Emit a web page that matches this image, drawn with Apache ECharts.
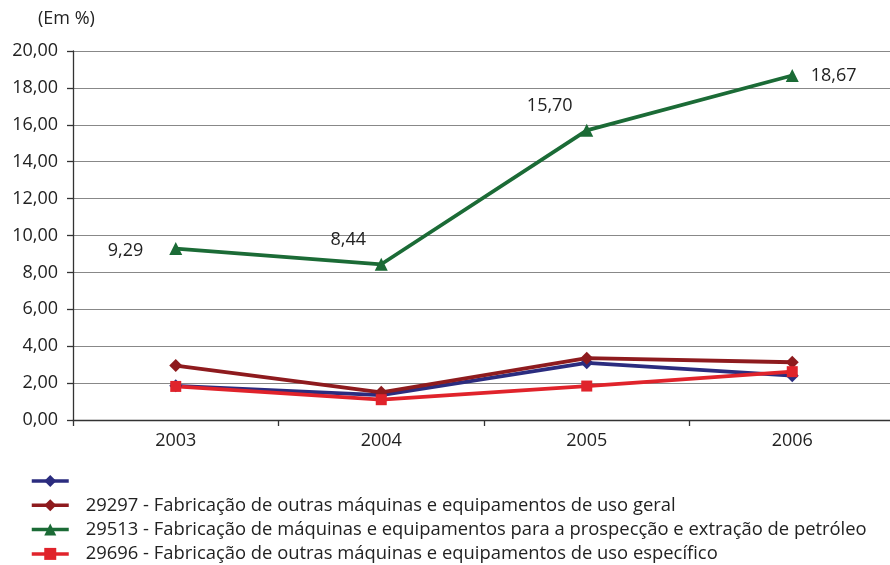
<!DOCTYPE html>
<html>
<head>
<meta charset="utf-8">
<script src="https://cdn.jsdelivr.net/npm/echarts@6/dist/echarts.min.js"></script>
<style>
  html, body { margin: 0; padding: 0; background: #fff; }
  #chart { width: 890px; height: 565px; }
</style>
</head>
<body>
<div id="chart"></div>
<script>
// Anos e séries (%)
const years = ['2003', '2004', '2005', '2006'];
const yTicks = [0, 2, 4, 6, 8, 10, 12, 14, 16, 18, 20];
const seriesNames = [
  ' ',
  '29297 - Fabricação de outras máquinas e equipamentos de uso geral',
  '29513 - Fabricação de máquinas e equipamentos para a prospecção e extração de petróleo',
  '29696 - Fabricação de outras máquinas e equipamentos de uso específico'
];
const serieTotal = [1.85, 1.35, 3.10, 2.40];
const serie29297 = [2.95, 1.50, 3.35, 3.13];
const serie29513 = [9.29, 8.44, 15.70, 18.67];
const serie29696 = [1.82, 1.10, 1.84, 2.62];

const colors = ['#2b2c7f', '#8e1b1e', '#1b6b36', '#e0232b'];
const FONT = '"Open Sans", "Noto Sans", sans-serif';
const FS = 18;
const fmt = v => v.toFixed(2).replace('.', ',');

// posição dos rótulos da série de petróleo
const labelPos = [
  { position: 'left', distance: 26, offset: [0, 2] },
  { position: 'top', offset: [-33, -4] },
  { position: 'top', offset: [-37, -4] },
  { position: 'right', distance: 12, offset: [0, 0] }
];

const chart = echarts.init(document.getElementById('chart'));
chart.setOption({
  animation: false,
  backgroundColor: '#fff',
  textStyle: { fontFamily: FONT },
  graphic: [{
    type: 'text', left: 38, top: 10,
    style: { text: '(Em %)', font: FS + 'px ' + FONT, fill: '#222' }
  }],
  grid: { left: 73, top: 51, width: 822, height: 369, containLabel: false, outerBoundsMode: 'none' },
  legend: {
    orient: 'vertical', left: 30, top: 471, height: 110, padding: 0,
    itemWidth: 37, itemHeight: 15, itemGap: 4.3,
    data: seriesNames,
    lineStyle: { width: 3.5 },
    textStyle: { fontSize: 18.4, lineHeight: 20, color: '#222', fontFamily: FONT, padding: [0, 0, 0, 12] }
  },
  xAxis: {
    type: 'category', data: years, boundaryGap: true,
    axisLine: { lineStyle: { color: '#333', width: 1.3 } },
    axisTick: { show: true, length: 6, lineStyle: { color: '#333', width: 1.3 } },
    axisLabel: { fontSize: FS, color: '#222', margin: 12, fontFamily: FONT }
  },
  yAxis: {
    type: 'value', min: 0, max: 20, interval: 2,
    axisLine: { show: true, lineStyle: { color: '#333', width: 1.3 } },
    axisTick: { show: true, length: 6, lineStyle: { color: '#333', width: 1.3 } },
    splitLine: { lineStyle: { color: '#888', width: 1.2 } },
    axisLabel: { fontSize: FS, color: '#222', margin: 15, fontFamily: FONT, formatter: v => fmt(v) }
  },
  series: [
    {
      name: seriesNames[0], type: 'line', data: serieTotal,
      symbol: 'diamond', symbolSize: 13, color: colors[0],
      lineStyle: { width: 3.8, color: colors[0] }, itemStyle: { color: colors[0] }
    },
    {
      name: seriesNames[1], type: 'line', data: serie29297,
      symbol: 'diamond', symbolSize: 13, color: colors[1],
      lineStyle: { width: 3.8, color: colors[1] }, itemStyle: { color: colors[1] }
    },
    {
      name: seriesNames[2], type: 'line', color: colors[2],
      data: serie29513.map((v, i) => ({ value: v, label: labelPos[i] })),
      symbol: 'triangle', symbolSize: 13,
      lineStyle: { width: 3.8, color: colors[2] }, itemStyle: { color: colors[2] },
      label: {
        show: true, fontSize: FS, color: '#222', fontFamily: FONT,
        formatter: p => fmt(p.value)
      }
    },
    {
      name: seriesNames[3], type: 'line', data: serie29696,
      symbol: 'rect', symbolSize: 11, color: colors[3],
      lineStyle: { width: 3.8, color: colors[3] }, itemStyle: { color: colors[3] }
    }
  ]
});
</script>
</body>
</html>
